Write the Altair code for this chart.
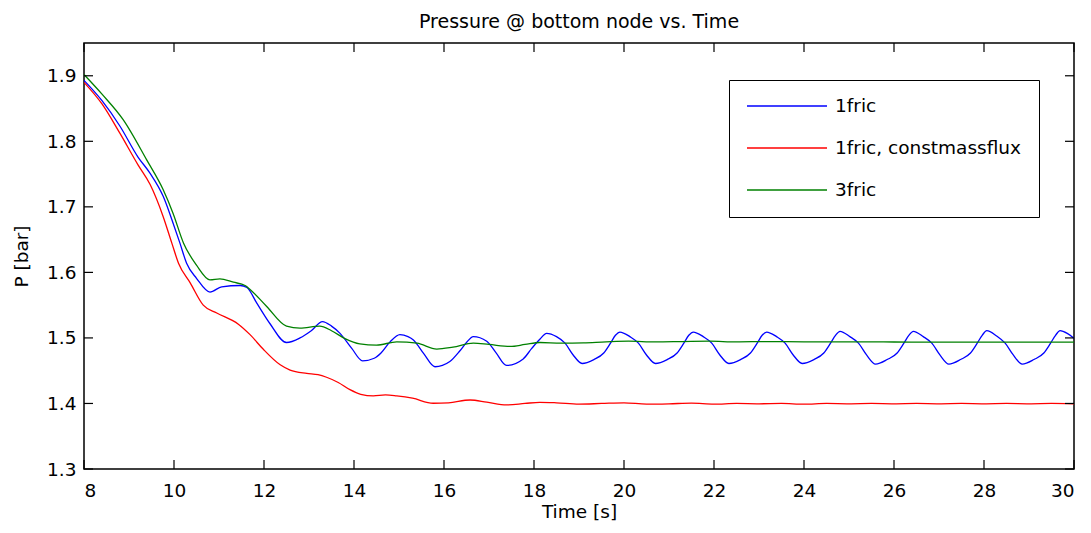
import altair as alt
import pandas as pd

# ---------------- data ----------------
series_names = ["1fric", "1fric, constmassflux", "3fric"]
series_colors = ["#0000ff", "#ff0000", "#008000"]

blue_t = [8.00, 8.40, 8.80, 9.20, 9.47, 9.76, 9.98, 10.13, 10.28, 10.50, 10.80, 11.06,
          11.47, 11.62, 11.84, 12.13, 12.50, 12.80, 13.05, 13.30, 13.50, 13.69, 13.95,
          14.19, 14.45, 14.60, 14.80, 15.02, 15.20, 15.32, 15.55, 15.80, 16.13, 16.35,
          16.50, 16.65, 16.95, 17.15, 17.39, 17.76, 17.95, 18.13,
          18.28, 18.50, 18.69, 18.87, 19.07, 19.33, 19.55, 19.70, 19.81,
          19.91, 20.13, 20.32, 20.50, 20.70, 20.96, 21.18, 21.33, 21.44,
          21.54, 21.76, 21.95, 22.13, 22.33, 22.59, 22.81, 22.96, 23.07,
          23.17, 23.39, 23.58, 23.76, 23.96, 24.22, 24.44, 24.59, 24.70,
          24.80, 25.02, 25.21, 25.39, 25.59, 25.85, 26.07, 26.22, 26.33,
          26.43, 26.65, 26.84, 27.02, 27.22, 27.48, 27.70, 27.85, 27.96,
          28.06, 28.28, 28.47, 28.65, 28.85, 29.11, 29.33, 29.48, 29.59,
          29.69, 29.85, 30.00]
blue_p = [1.893, 1.862, 1.823, 1.776, 1.751, 1.716, 1.675, 1.645, 1.614, 1.591, 1.570, 1.578,
          1.580, 1.577, 1.553, 1.522, 1.493, 1.500, 1.511, 1.525, 1.518, 1.507, 1.484,
          1.465, 1.469, 1.477, 1.494, 1.505, 1.502, 1.497, 1.476, 1.456, 1.464, 1.480,
          1.493, 1.502, 1.495, 1.478, 1.458, 1.468, 1.484, 1.498,
          1.507, 1.502, 1.492, 1.474, 1.461, 1.467, 1.477, 1.492, 1.504,
          1.509, 1.502, 1.492, 1.474, 1.461, 1.467, 1.477, 1.492, 1.504,
          1.509, 1.502, 1.492, 1.474, 1.461, 1.467, 1.477, 1.492, 1.504,
          1.509, 1.502, 1.492, 1.474, 1.461, 1.467, 1.477, 1.492, 1.504,
          1.510, 1.502, 1.492, 1.474, 1.460, 1.467, 1.477, 1.492, 1.504,
          1.510, 1.502, 1.492, 1.474, 1.460, 1.467, 1.477, 1.492, 1.504,
          1.511, 1.503, 1.492, 1.474, 1.460, 1.467, 1.477, 1.492, 1.504,
          1.511, 1.507, 1.4995]

red_t = [8.00, 8.40, 8.80, 9.20, 9.47, 9.76, 9.95, 10.10, 10.36, 10.65, 10.95, 11.43,
         11.69, 11.98, 12.36, 12.58, 12.95, 13.20, 13.39, 13.65, 13.91, 14.15, 14.43,
         14.70, 14.95, 15.30, 15.76, 16.10, 16.58, 16.95, 17.39, 17.80, 18.13, 18.50,
         19.00, 19.50, 20.00, 20.50, 21.00, 21.50, 22.00, 22.50, 23.00, 23.50, 24.00,
         24.50, 25.00, 25.50, 26.00, 26.50, 27.00, 27.50, 28.00, 28.50, 29.00, 29.50, 30.00]
red_p = [1.890, 1.857, 1.812, 1.764, 1.734, 1.685, 1.645, 1.614, 1.584, 1.550, 1.538, 1.521,
         1.505, 1.483, 1.459, 1.451, 1.446, 1.444, 1.440, 1.432, 1.421, 1.414, 1.4115,
         1.413, 1.4115, 1.408, 1.4003, 1.401, 1.4053, 1.402, 1.3977, 1.400, 1.4018, 1.401,
         1.399, 1.400, 1.401, 1.399, 1.3995, 1.4005, 1.399, 1.400, 1.3995, 1.400, 1.399,
         1.400, 1.3995, 1.400, 1.3995, 1.400, 1.3995, 1.400, 1.3995, 1.400, 1.3995, 1.400, 1.3995]

green_t = [8.00, 8.40, 8.87, 9.39, 9.76, 9.98, 10.21, 10.50, 10.80, 11.02, 11.32, 11.58,
           11.69, 12.06, 12.50, 12.80, 13.24, 13.50, 13.80, 14.13, 14.50, 14.95, 15.40,
           15.84, 16.20, 16.65, 17.00, 17.47, 17.80, 18.13, 18.60, 19.10, 19.60, 20.10,
           20.70, 21.30, 21.90, 22.50, 23.20, 24.00, 25.00, 26.00, 27.00, 28.00, 29.00, 30.00]
green_p = [1.902, 1.872, 1.833, 1.772, 1.726, 1.690, 1.645, 1.611, 1.5885, 1.590, 1.585, 1.580,
           1.574, 1.548, 1.518, 1.515, 1.518, 1.511, 1.499, 1.491, 1.489, 1.494, 1.492,
           1.483, 1.486, 1.492, 1.490, 1.487, 1.490, 1.493, 1.492, 1.4925, 1.494, 1.495,
           1.494, 1.4945, 1.495, 1.494, 1.4945, 1.494, 1.494, 1.4938, 1.4935, 1.4935, 1.4935, 1.4935]

x_ticks = [8, 10, 12, 14, 16, 18, 20, 22, 24, 26, 28, 30]
y_ticks = [1.3, 1.4, 1.5, 1.6, 1.7, 1.8, 1.9]

title_text = "Pressure @ bottom node vs. Time"
x_title = "Time [s]"
y_title = "P [bar]"

# ---------------- tables ----------------
frames = []
for name, ts, ps in zip(series_names, [blue_t, red_t, green_t], [blue_p, red_p, green_p]):
    frames.append(pd.DataFrame({"t": ts, "p": ps, "series": name}))
df = pd.concat(frames, ignore_index=True)
xt = pd.DataFrame({"t": x_ticks})
yt = pd.DataFrame({"p": y_ticks})

W, H = 990, 426
FONT = "DejaVu Sans"
FS = 18.5
TICK = 9

xscale = alt.Scale(domain=[8, 30], nice=False, zero=False)
yscale = alt.Scale(domain=[1.3, 1.95], nice=False, zero=False)

x_axis = alt.Axis(values=x_ticks, format="d", tickSize=0, domain=False, grid=False,
                  labelPadding=12, labelFont=FONT, labelFontSize=FS, labelColor="#000",
                  title=x_title, titleFont=FONT, titleFontSize=FS, titleFontWeight="normal",
                  titleColor="#000", titlePadding=3)
y_axis = alt.Axis(values=y_ticks, format=".1f", tickSize=0, domain=False, grid=False,
                  labelPadding=8, labelFont=FONT, labelFontSize=FS, labelColor="#000",
                  title=y_title, titleFont=FONT, titleFontSize=FS, titleFontWeight="normal",
                  titleColor="#000", titlePadding=15)

lines = alt.Chart(df).mark_line(strokeWidth=1.3, interpolate="monotone", clip=True).encode(
    x=alt.X("t:Q", scale=xscale, axis=x_axis),
    y=alt.Y("p:Q", scale=yscale, axis=y_axis),
    color=alt.Color("series:N",
                    scale=alt.Scale(domain=series_names, range=series_colors),
                    sort=series_names,
                    legend=alt.Legend(title=None, orient="none", legendX=645, legendY=37,
                                      symbolType="stroke", symbolSize=6400,
                                      symbolStrokeWidth=1.3, labelFont=FONT,
                                      labelFontSize=FS, labelColor="#000", labelOffset=7,
                                      clipHeight=18, padding=17, rowPadding=23,
                                      fillColor="white", strokeColor="#000",
                                      labelLimit=400)),
)

tick_style = dict(color="#000", strokeWidth=1.2)
xb = alt.Chart(xt).mark_rule(**tick_style).encode(
    x=alt.X("t:Q", scale=xscale, axis=x_axis), y=alt.value(H), y2=alt.value(H - TICK))
xtop = alt.Chart(xt).mark_rule(**tick_style).encode(
    x=alt.X("t:Q", scale=xscale, axis=x_axis), y=alt.value(0), y2=alt.value(TICK))
yl = alt.Chart(yt).mark_rule(**tick_style).encode(
    y=alt.Y("p:Q", scale=yscale, axis=y_axis), x=alt.value(0), x2=alt.value(TICK))
yr = alt.Chart(yt).mark_rule(**tick_style).encode(
    y=alt.Y("p:Q", scale=yscale, axis=y_axis), x=alt.value(W - TICK), x2=alt.value(W))

chart = alt.layer(lines, xb, xtop, yl, yr).properties(
    width=W, height=H,
    title=alt.TitleParams(title_text, font=FONT, fontSize=19, fontWeight="normal",
                          color="#000", anchor="middle", offset=10),
    autosize=alt.AutoSizeParams(type="none"),
    padding={"left": 76, "top": 35, "right": 9, "bottom": 62},
).configure(background="white").configure_view(stroke="#000", strokeWidth=1.5)

chart.save("out.html", embed_options={"renderer": "svg", "actions": False})
